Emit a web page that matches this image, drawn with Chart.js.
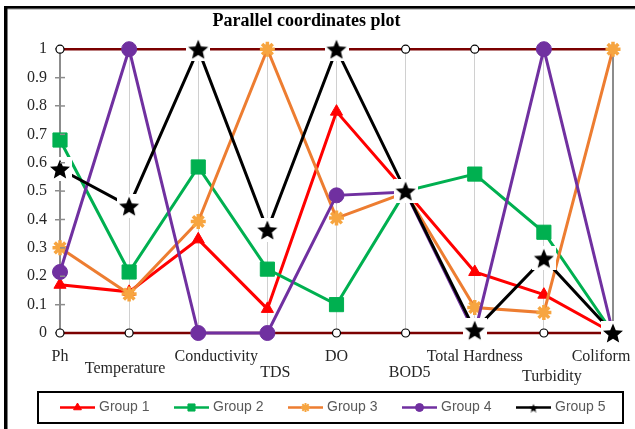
<!DOCTYPE html>
<html><head><meta charset="utf-8">
<script src="https://cdn.jsdelivr.net/npm/chart.js@4/dist/chart.umd.min.js"></script>
<style>html,body{margin:0;padding:0;background:#fff}</style>
</head><body>
<canvas id="c" width="635" height="429"></canvas>
<script>
// ---- data ----
const categories = ['Ph','Temperature','Conductivity','TDS','DO','BOD5','Total Hardness','Turbidity','Coliform'];
const group1 = [0.17, 0.145, 0.33, 0.085, 0.78, 0.50, 0.215, 0.135, 0.0];
const group2 = [0.68, 0.215, 0.585, 0.225, 0.10, 0.50, 0.56, 0.355, 0.0];
const group3 = [0.30, 0.137, 0.393, 1.0, 0.405, 0.495, 0.09, 0.072, 1.0];
const group4 = [0.215, 1.0, 0.0, 0.0, 0.485, 0.497, 0.0, 1.0, 0.0];
const group5 = [0.578, 0.447, 1.0, 0.363, 1.0, 0.50, 0.01, 0.263, 0.0];
const axisMax = [1, 1, 1, 1, 1, 1, 1, 1, 1];
const axisMin = [0, 0, 0, 0, 0, 0, 0, 0, 0];
const seriesNames = ['Group 1','Group 2','Group 3','Group 4','Group 5'];
const yTickValues = [0, 0.1, 0.2, 0.3, 0.4, 0.5, 0.6, 0.7, 0.8, 0.9, 1];

// ---- label layout (staggering like the original) ----
const labelDrop = [0, 3, 0, 4, 0, 4, 0, 5, 0];      // blank 4px lines above
const labelLead = [0, 0, 9, 4, 0, 2, 0, 4, 0];      // leading spaces
const labelTrail = [0, 2, 0, 0, 0, 0, 0, 0, 6];     // trailing spaces
function tickLabel(i) {
  const lines = [];
  for (let k = 0; k < labelDrop[i]; k++) lines.push('');
  lines.push(' '.repeat(labelLead[i]) + categories[i] + ' '.repeat(labelTrail[i]));
  return lines;
}

function makeStar(size, r, halo) {
  const c = document.createElement('canvas');
  c.width = c.height = size;
  const g = c.getContext('2d');
  if (halo) { g.fillStyle = '#fff'; g.fillRect(0, 0, size, size); }
  g.beginPath();
  for (let k = 0; k < 10; k++) {
    const a = -Math.PI / 2 + k * Math.PI / 5;
    const rr = k % 2 ? r * 0.45 : r;
    g.lineTo(size / 2 + rr * Math.cos(a), size / 2 + 1 + rr * Math.sin(a));
  }
  g.closePath();
  g.fillStyle = '#000';
  g.fill();
  return c;
}
const starBig = makeStar(24, 10.5, true);
const starSmall = makeStar(10, 4.5, false);

const styles = [
  {color:'#FF0000', pointStyle:'triangle', radius:7, bg:'#FF0000', bc:'#FF0000', bw:1, legendR:4.5},
  {color:'#00B050', pointStyle:'rect', radius:10, bg:'#00B050', bc:'#00B050', bw:1, legendR:5},
  {color:'#ED7D31', pointStyle:'star', radius:7.5, bg:'#F7A540', bc:'#F7A540', bw:3.5, legendR:4.5},
  {color:'#7030A0', pointStyle:'circle', radius:7.5, bg:'#7030A0', bc:'#7030A0', bw:1, legendR:4},
  {color:'#000000', pointStyle:starBig, radius:10, bg:'#000', bc:'#000', bw:1, legendR:4, legendStyle:starSmall}
];
const seriesData = [group1, group2, group3, group4, group5];

const datasets = seriesData.map((d, i) => ({
  label: seriesNames[i],
  data: d,
  borderColor: styles[i].color,
  backgroundColor: styles[i].bg,
  borderWidth: 3,
  pointStyle: styles[i].pointStyle,
  pointRadius: styles[i].radius,
  pointBackgroundColor: styles[i].bg,
  pointBorderColor: styles[i].bc,
  pointBorderWidth: styles[i].bw,
  tension: 0,
  clip: false,
  order: 5 - i,
  inLegend: true,
  legendStyle: styles[i].legendStyle || styles[i].pointStyle,
  legendR: styles[i].legendR
}));
[axisMax, axisMin].forEach((d, i) => datasets.push({
  label: i ? 'min' : 'max',
  data: d,
  borderColor: '#7B0000',
  borderWidth: 2.5,
  pointStyle: 'circle',
  pointRadius: 4,
  pointBackgroundColor: '#fff',
  pointBorderColor: '#000',
  pointBorderWidth: 1.2,
  clip: false,
  order: 10,
  inLegend: false
}));

const framePlugin = {
  id: 'frame',
  beforeDraw(chart) {
    const ctx = chart.ctx;
    ctx.save();
    ctx.fillStyle = '#fff';
    ctx.fillRect(0, 0, chart.width, chart.height);
    ctx.fillStyle = '#000';
    ctx.fillRect(4, 6, chart.width - 4, 2.7);
    ctx.fillStyle = '#c8c8c8';
    ctx.fillRect(7.5, 9, chart.width - 7.5, 1);
    ctx.fillStyle = '#000';
    ctx.fillRect(4, 6, 3.5, chart.height - 6);
    ctx.restore();
  },
  afterDatasetsDraw(chart) {
    // inner half of y tick marks crossing the Ph axis
    const ctx = chart.ctx, y = chart.scales.y, x0 = chart.chartArea.left;
    ctx.save();
    ctx.strokeStyle = '#8c8c8c';
    ctx.lineWidth = 1.5;
    y.ticks.forEach(t => {
      const py = y.getPixelForValue(t.value);
      if (t.value <= 0.001 || t.value >= 0.999) return;
      ctx.beginPath(); ctx.moveTo(x0, py); ctx.lineTo(x0 + 5, py); ctx.stroke();
    });
    ctx.restore();
  }
};

const legendPlugin = {
  id: 'boxLegend',
  afterDraw(chart) {
    const ctx = chart.ctx;
    ctx.save();
    ctx.strokeStyle = '#000';
    ctx.lineWidth = 2;
    ctx.strokeRect(38, 392, 585, 31);
    const items = chart.data.datasets.filter(d => d.inLegend);
    const cy = 407.5;
    items.forEach((d, i) => {
      const x0 = 60 + i * 114;
      ctx.strokeStyle = d.borderColor;
      ctx.lineWidth = 2.5;
      ctx.beginPath(); ctx.moveTo(x0, cy); ctx.lineTo(x0 + 35, cy); ctx.stroke();
      ctx.fillStyle = d.pointBackgroundColor;
      ctx.strokeStyle = d.pointBorderColor;
      ctx.lineWidth = d.pointStyle === 'star' ? 2 : 1;
      Chart.helpers.drawPoint(ctx, {pointStyle: d.legendStyle, radius: d.legendR, rotation: 0, borderWidth: ctx.lineWidth}, x0 + 17.5, cy);
      ctx.fillStyle = '#595959';
      ctx.font = '14px "Liberation Sans", Arial, sans-serif';
      ctx.textBaseline = 'middle';
      ctx.textAlign = 'left';
      ctx.fillText(d.label, x0 + 39, cy);
    });
    ctx.restore();
  }
};

new Chart(document.getElementById('c'), {
  type: 'line',
  data: { labels: categories, datasets },
  plugins: [framePlugin, legendPlugin],
  options: {
    responsive: false,
    animation: false,
    devicePixelRatio: 1,
    layout: { padding: { left: 0, right: 22, top: 0, bottom: 0 } },
    plugins: {
      legend: { display: false },
      tooltip: { enabled: false },
      title: {
        display: true,
        text: 'Parallel coordinates plot',
        color: '#000',
        font: { family: '"Liberation Serif", "Times New Roman", serif', size: 18, weight: 'bold' },
        padding: { top: 11, bottom: 16.6 }
      }
    },
    scales: {
      x: {
        type: 'category',
        offset: false,
        afterFit(s) { s.height = 96; s.paddingLeft = 0; s.paddingRight = 0; },
        border: { display: false },
        grid: {
          display: true,
          drawTicks: false,
          color: c => (c.index === 0 || c.index === categories.length - 1) ? '#8c8c8c' : '#d0d0d0',
          lineWidth: c => c.index === categories.length - 1 ? 2 : 1
        },
        ticks: {
          autoSkip: false,
          maxRotation: 0,
          minRotation: 0,
          padding: 22,
          color: '#262626',
          font: { family: '"Liberation Serif", "Times New Roman", serif', size: 16, lineHeight: '4px' },
          callback: (v, i) => tickLabel(i)
        }
      },
      y: {
        min: 0,
        max: 1,
        afterFit(s) { s.width = 60; },
        afterBuildTicks(s) { s.ticks = yTickValues.map(v => ({ value: v })); },
        border: { display: true, color: '#8c8c8c', width: 2 },
        grid: { display: true, drawOnChartArea: false, drawTicks: true, tickLength: 5, color: '#8c8c8c', lineWidth: 1.5 },
        ticks: {
          padding: 8,
          color: '#262626',
          font: { family: '"Liberation Serif", "Times New Roman", serif', size: 16 },
          callback: v => String(Math.round(v * 10) / 10)
        }
      }
    }
  }
});
</script>
</body></html>
